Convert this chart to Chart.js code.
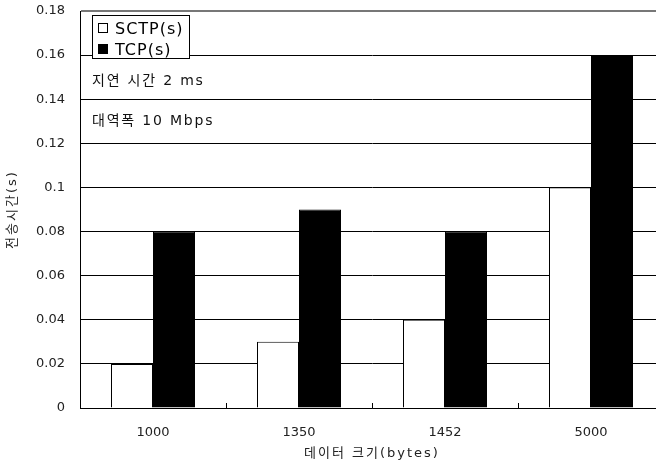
<!DOCTYPE html>
<html>
<head>
<meta charset="utf-8">
<script src="https://cdn.jsdelivr.net/npm/chart.js@4/dist/chart.umd.min.js"></script>
<style>
  html, body { margin: 0; padding: 0; background: #fff; overflow: hidden; width: 656px; height: 466px; }
  canvas { display: block; }
</style>
</head>
<body>
<canvas id="chart" width="670" height="466"></canvas>
<script>
// Transfer time by payload size, SCTP vs TCP
const categories = ['1000', '1350', '1452', '5000'];
const sctpTimes = [0.02, 0.03, 0.04, 0.10];
const tcpTimes = [0.08, 0.09, 0.08, 0.16];
const yTicks = [0, 0.02, 0.04, 0.06, 0.08, 0.10, 0.12, 0.14, 0.16, 0.18];
const seriesNames = ['SCTP(s)', 'TCP(s)'];
const noteLines = ['지연 시간 2 ms', '대역폭 10 Mbps'];
const xTitle = '데이터 크기(bytes)';
const yTitle = '전송시간(s)';

const LATIN = "'DejaVu Sans', 'Noto Sans CJK KR', sans-serif";

// Axis titles are drawn by the scales, with a little extra letter spacing
const spacedTitles = {
  id: 'spacedTitles',
  beforeDraw(chart) {
    Object.values(chart.scales).forEach(scale => {
      if (scale._spacedTitle) return;
      const orig = scale.drawTitle;
      scale.drawTitle = function () {
        const c = this.ctx;
        const prev = c.letterSpacing;
        c.letterSpacing = '2px';
        orig.call(this);
        c.letterSpacing = prev;
      };
      scale._spacedTitle = true;
    });
  }
};

// Small upward ticks on the baseline between category groups
const groupTicks = {
  id: 'groupTicks',
  afterDatasetsDraw(chart) {
    const xs = chart.scales.x;
    const bottom = chart.chartArea.bottom;
    const ctx = chart.ctx;
    ctx.save();
    ctx.strokeStyle = '#000';
    ctx.lineWidth = 1;
    for (let i = 1; i < categories.length; i++) {
      const x = Math.round((xs.getPixelForValue(i - 1) + xs.getPixelForValue(i)) / 2) + 0.5;
      ctx.beginPath();
      ctx.moveTo(x, bottom);
      ctx.lineTo(x, bottom - 5);
      ctx.stroke();
    }
    ctx.restore();
  }
};

// Boxed legend and test-condition notes inside the plot area
const legendAndNotes = {
  id: 'legendAndNotes',
  afterDatasetsDraw(chart) {
    const { left, top } = chart.chartArea;
    const ctx = chart.ctx;
    ctx.save();
    // legend box
    const bx = Math.round(left) + 12.5, by = Math.round(top) + 4.5, bw = 97, bh = 43;
    ctx.fillStyle = '#fff';
    ctx.fillRect(bx, by, bw, bh);
    ctx.strokeStyle = '#000';
    ctx.lineWidth = 1;
    ctx.strokeRect(bx, by, bw, bh);

    ctx.font = '16px ' + LATIN;
    ctx.letterSpacing = '1px';
    ctx.textBaseline = 'alphabetic';
    ctx.textAlign = 'left';
    const rows = [top + 22.5, top + 44];
    chart.data.datasets.forEach((ds, i) => {
      const my = Math.round(rows[i] - 11) + 0.5;
      ctx.fillStyle = ds.backgroundColor;
      ctx.fillRect(bx + 6, my, 9, 9);
      ctx.strokeStyle = '#000';
      ctx.strokeRect(bx + 6, my, 9, 9);
      ctx.fillStyle = '#000';
      ctx.fillText(ds.label, left + 35, rows[i]);
    });

    // notes
    ctx.font = '14px ' + LATIN;
    ctx.letterSpacing = '1.8px';
    ctx.fillStyle = '#111';
    noteLines.forEach((t, i) => {
      ctx.fillText(t, left + 12, top + 74 + i * 40);
    });
    ctx.restore();
  }
};

new Chart(document.getElementById('chart'), {
  type: 'bar',
  data: {
    labels: categories,
    datasets: [
      {
        label: seriesNames[0],
        data: sctpTimes,
        backgroundColor: '#ffffff',
        borderColor: '#000000',
        borderWidth: 1,
        categoryPercentage: 84 / 146,
        barPercentage: 1.0
      },
      {
        label: seriesNames[1],
        data: tcpTimes,
        backgroundColor: '#000000',
        borderColor: '#000000',
        borderWidth: 1,
        categoryPercentage: 84 / 146,
        barPercentage: 1.0
      }
    ]
  },
  options: {
    responsive: false,
    devicePixelRatio: 1,
    animation: false,
    layout: { padding: { top: 11, right: 6, bottom: 0, left: 0 } },
    plugins: {
      legend: { display: false },
      tooltip: { enabled: false }
    },
    scales: {
      x: {
        offset: true,
        grid: { display: false, drawTicks: false },
        border: { display: true, color: '#000', width: 1 },
        ticks: {
          color: '#222',
          font: { family: LATIN, size: 13 },
          padding: 17
        },
        title: {
          display: true,
          text: xTitle,
          color: '#222',
          font: { family: LATIN, size: 13 },
          padding: { top: 0, bottom: 5 }
        },
        afterFit(scale) { scale.height = 58; }
      },
      y: {
        min: 0,
        max: 0.18,
        afterBuildTicks(scale) {
          scale.ticks = yTicks.map(v => ({ value: v }));
        },
        grid: {
          drawTicks: false,
          color: ctx => (ctx.index === yTicks.length - 1 ? '#777' : '#000'),
          lineWidth: ctx => (ctx.index === yTicks.length - 1 ? 2 : 1)
        },
        border: { display: true, color: '#000', width: 1 },
        ticks: {
          color: '#222',
          font: { family: LATIN, size: 13 },
          padding: 15,
          callback: v => String(Number(Number(v).toFixed(2)))
        },
        title: {
          display: true,
          text: yTitle,
          color: '#222',
          font: { family: LATIN, size: 13 },
          padding: { top: 5, bottom: 0 }
        },
        afterFit(scale) {
          scale.width = 80;
          scale.paddingTop = 0;
          scale.paddingBottom = 0;
        }
      }
    }
  },
  plugins: [spacedTitles, groupTicks, legendAndNotes]
});
</script>
</body>
</html>
